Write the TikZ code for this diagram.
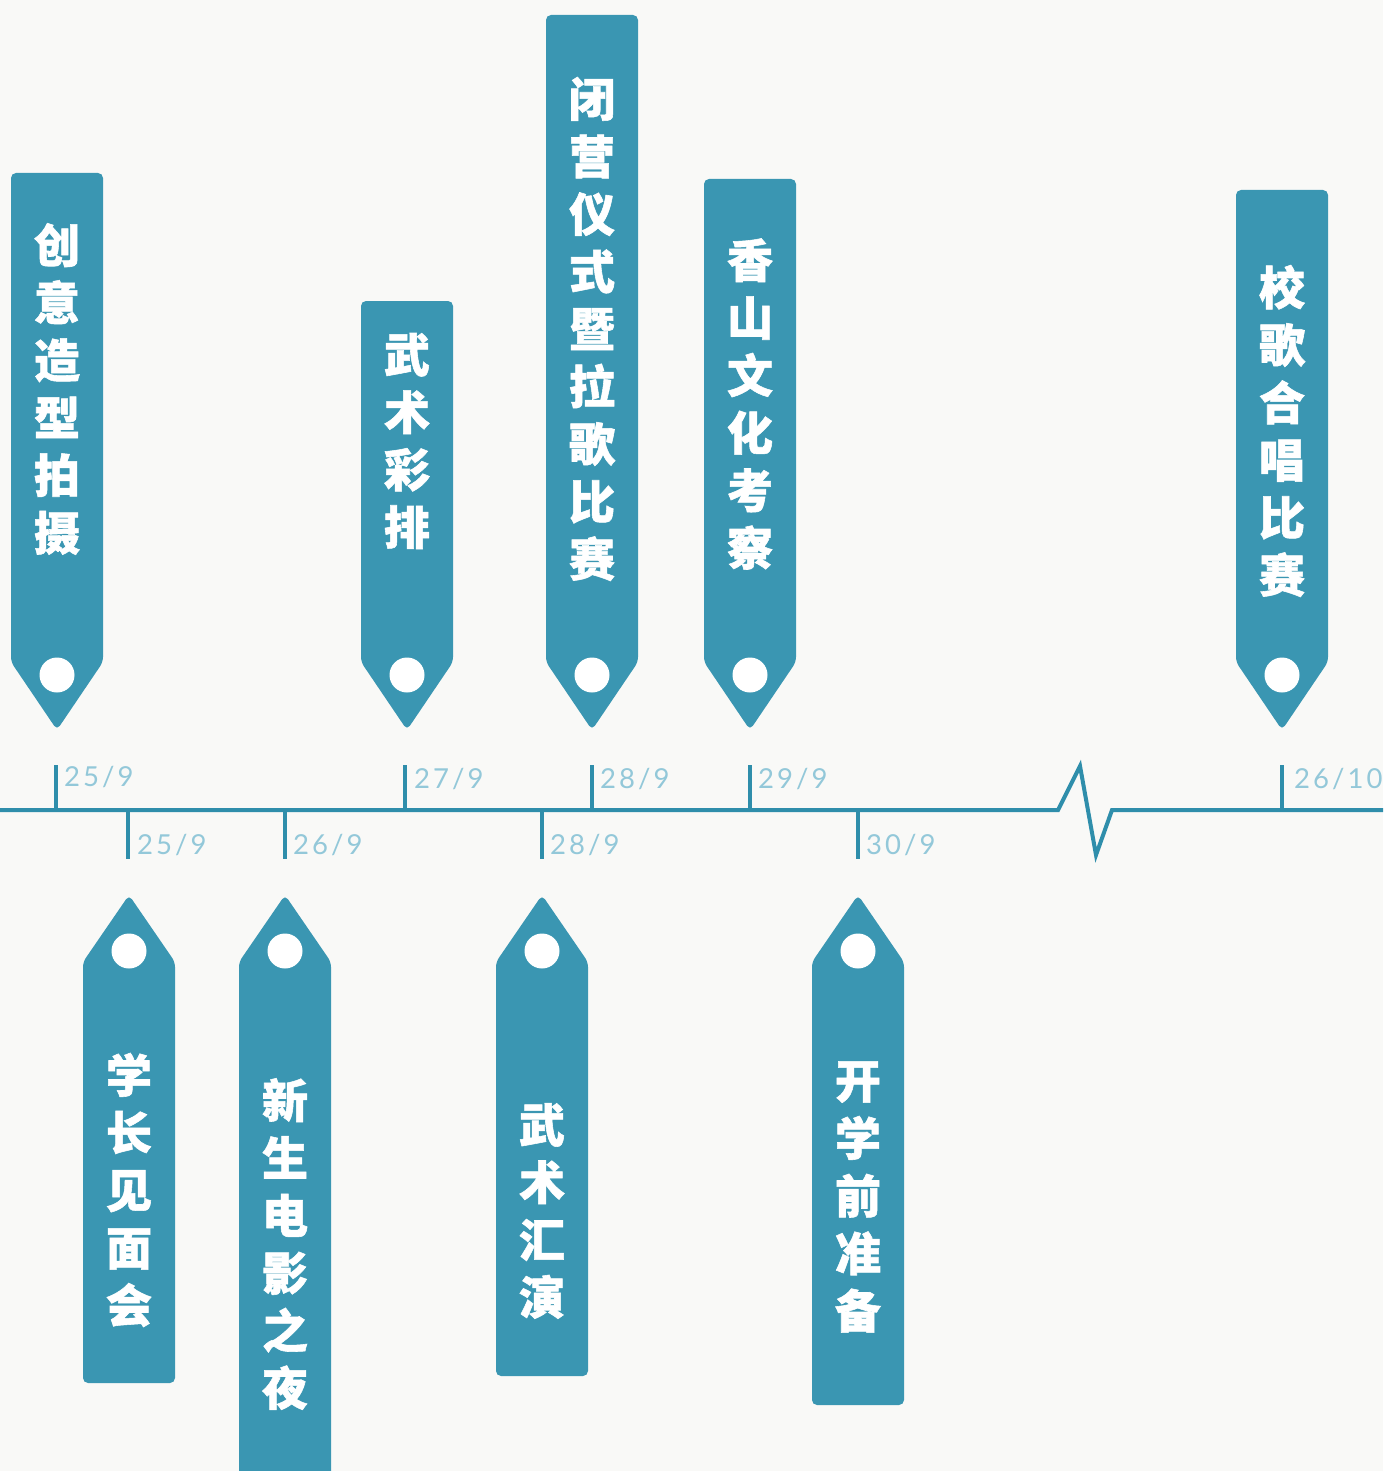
\documentclass[tikz,border=0pt]{standalone}
\usepackage{fontspec}
\newfontfamily\cjk[BoldFeatures={FakeBold=1.2}]{Noto Sans CJK SC}
\newfontfamily\datefont[LetterSpace=11]{Lato}
\definecolor{tagblue}{HTML}{3A96B2}
\definecolor{lineblue}{HTML}{2F8EAB}
\definecolor{datecol}{HTML}{93C8D9}
\definecolor{bgcol}{HTML}{F9F9F7}
\tikzset{
  tagshape/.style={fill=tagblue, rounded corners=5pt},
  hole/.style={fill=white},
  tagtext/.style={text=white, font=\cjk\bfseries\fontsize{46}{57.5}\selectfont, align=center, inner sep=0pt},
  datelabel/.style={text=datecol, font=\datefont\fontsize{27.5}{30}\selectfont, anchor=west, inner sep=0pt},
  axisline/.style={draw=lineblue, line width=4pt},
  tickline/.style={draw=lineblue, line width=3.5pt}
}
\newcommand\toptag[5]{% name, center x, top y, text center y, text
  \fill[tagshape] ({#2-46},#3) -- ({#2+46},#3) -- ({#2+46},662) -- (#2,730) -- ({#2-46},662) -- cycle;
  \fill[hole] (#2,675) circle (17.5pt);
  \node[tagtext] (#1) at (#2,#4) {#5};
}
\newcommand\bottag[5]{% name, center x, bottom y, text center y, text
  \fill[tagshape] ({#2-46},#3) -- ({#2+46},#3) -- ({#2+46},962) -- (#2,895) -- ({#2-46},962) -- cycle;
  \fill[hole] (#2,951) circle (17.5pt);
  \node[tagtext] (#1) at (#2,#4) {#5};
}
\begin{document}
\begin{tikzpicture}[x=1pt,y=-1pt]
\fill[bgcol] (0,0) rectangle (1383,1471);
\useasboundingbox (0,0) rectangle (1383,1471);
\clip (0,0) rectangle (1383,1471);

% top tags
\toptag{t1}{57}{173}{389}{创\\意\\造\\型\\拍\\摄}
\toptag{t2}{407}{301}{441}{武\\术\\彩\\排}
\toptag{t3}{592}{15}{329}{闭\\营\\仪\\式\\暨\\拉\\歌\\比\\赛}
\toptag{t4}{750}{179}{404}{香\\山\\文\\化\\考\\察}
\toptag{t5}{1282}{190}{431}{校\\歌\\合\\唱\\比\\赛}

% bottom tags
\bottag{b1}{129}{1383}{1190}{学\\长\\见\\面\\会}
\bottag{b2}{285}{1490}{1244}{新\\生\\电\\影\\之\\夜}
\bottag{b3}{542}{1376}{1211}{武\\术\\汇\\演}
\bottag{b4}{858}{1405}{1197}{开\\学\\前\\准\\备}

% axis
\coordinate (a0) at (-5,810);
\coordinate (z1) at (1058,810);
\coordinate (z2) at (1080,766);
\coordinate (z3) at (1096,855);
\coordinate (z4) at (1112,810);
\coordinate (a1) at (1390,810);
\draw[axisline, line join=miter] (a0) -- (z1) -- (z2) -- (z3) -- (z4) -- (a1);

% top ticks
\foreach \nm/\x in {u1/56, u2/405, u3/592, u4/750, u5/1282}{
  \coordinate (\nm b) at (\x,810);
  \coordinate (\nm a) at (\x,765);
  \draw[tickline] (\nm b) -- (\nm a);
}
\node[datelabel] (du1) at (64,777) {25/9};
\node[datelabel] (du2) at (414,779) {27/9};
\node[datelabel] (du3) at (600,779) {28/9};
\node[datelabel] (du4) at (758,779) {29/9};
\node[datelabel] (du5) at (1294,779) {26/10};

% bottom ticks
\foreach \nm/\x in {l1/128, l2/285, l3/542, l4/858}{
  \coordinate (\nm a) at (\x,810);
  \coordinate (\nm b) at (\x,859);
  \draw[tickline] (\nm a) -- (\nm b);
}
\node[datelabel] (dl1) at (137,845) {25/9};
\node[datelabel] (dl2) at (293,845) {26/9};
\node[datelabel] (dl3) at (550,845) {28/9};
\node[datelabel] (dl4) at (866,845) {30/9};
\end{tikzpicture}
\end{document}
